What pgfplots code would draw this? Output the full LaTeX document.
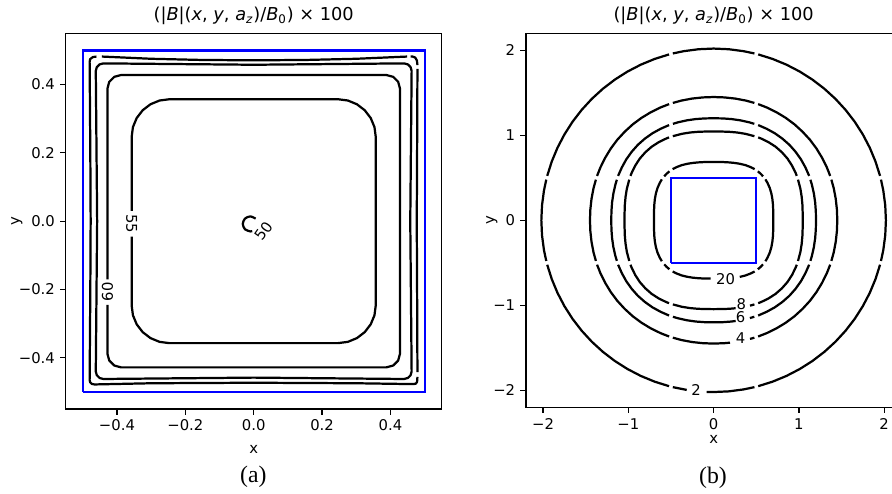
\documentclass[border=0pt]{standalone}
\usepackage{fontspec}
\setmainfont{DejaVu Sans}
\newfontfamily\capfont{Liberation Serif}
\usepackage{pgfplots}
\pgfplotsset{compat=1.18}

\pgfplotsset{
  mpl/.style={
    scale only axis,
    axis line style={line width=0.8pt},
    tick align=outside,
    tick pos=left,
    major tick length=3.8pt,
    every tick/.style={black, line width=0.8pt},
    ticklabel style={font=\fontsize{10}{12}\selectfont},
    every axis label/.append style={font=\fontsize{10}{12}\selectfont},
    every axis title/.style={at={(0.5,1)}, anchor=south, yshift=2pt, font=\fontsize{12}{14}\selectfont},
    unbounded coords=jump,
    title={(|\textit{B}|(\textit{x}, \textit{y}, \textit{a}\textsubscript{\textit{z}})/\textit{B}\textsubscript{0}) × 100},
    xlabel={x}, ylabel={y},
  },
  cont/.style={black, line width=1.5pt, line join=round, no markers},
  coil/.style={blue, line width=1.5pt, no markers},
}
\tikzset{clab/.style={font=\fontsize{10}{12}\selectfont, inner sep=0pt}}
% one piece of a contour in (b), given as (angle in degrees, radius)
\newcommand{\seg}[1]{\addplot[cont, data cs=polar] coordinates {#1};}

\begin{document}
\begin{tikzpicture}

% ---------- (a) ----------
\begin{axis}[mpl,
  at={(44.35pt,56.7pt)}, anchor=south west,
  width=253.8pt, height=253.6pt,
  xmin=-0.55, xmax=0.55, ymin=-0.55, ymax=0.55,
  xtick={-0.4,-0.2,0,0.2,0.4}, xticklabels={−0.4,−0.2,0.0,0.2,0.4},
  ytick={-0.4,-0.2,0,0.2,0.4}, yticklabels={−0.4,−0.2,0.0,0.2,0.4},
  xlabel style={at={(axis description cs:0.5,-0.108)}, anchor=center},
  ylabel style={at={(axis description cs:-0.130,0.5)}, anchor=center},
]
\addplot[coil] coordinates {(-0.5,-0.5) (0.5,-0.5) (0.5,0.5) (-0.5,0.5) (-0.5,-0.5)};

% 55
\addplot[cont] coordinates {
(-0.357,-0.045) (-0.357,-0.247)
(-0.3533,-0.2755) (-0.3423,-0.302) (-0.3248,-0.3248) (-0.302,-0.3423) (-0.2755,-0.3533) (-0.247,-0.357)
(0.247,-0.357) (0.2755,-0.3533) (0.302,-0.3423) (0.3248,-0.3248) (0.3423,-0.302) (0.3533,-0.2755) (0.357,-0.247)
(0.357,0.247) (0.3533,0.2755) (0.3423,0.302) (0.3248,0.3248) (0.302,0.3423) (0.2755,0.3533) (0.247,0.357)
(-0.247,0.357) (-0.2755,0.3533) (-0.302,0.3423) (-0.3248,0.3248) (-0.3423,0.302) (-0.3533,0.2755) (-0.357,0.247)
(-0.357,0.03)};

% 60
\addplot[cont] coordinates {
(-0.428,-0.245) (-0.428,-0.388) (-0.4226,-0.408) (-0.408,-0.4226) (-0.388,-0.428)
(0.388,-0.428) (0.408,-0.4226) (0.4226,-0.408) (0.428,-0.388)
(0.428,0.388) (0.4226,0.408) (0.408,0.4226) (0.388,0.428)
(-0.388,0.428) (-0.408,0.4226) (-0.4226,0.408) (-0.428,0.388)
(-0.428,-0.17)};

% 65
\addplot[cont] coordinates {
(0.458,0) (0.462,0.44) (0.459,0.451) (0.451,0.459) (0.44,0.462)
(0,0.458) (-0.44,0.462) (-0.451,0.459) (-0.459,0.451) (-0.462,0.44)
(-0.458,0) (-0.462,-0.44) (-0.459,-0.451) (-0.451,-0.459) (-0.44,-0.462)
(0,-0.458) (0.44,-0.462) (0.451,-0.459) (0.459,-0.451) (0.462,-0.44) (0.458,0)};

% 70 (outermost, broken near the corners)
\addplot[cont] coordinates {
(-0.46,0.482) (-0.4705,0.4805) (-0.4785,0.4745) (-0.48,0.466) (-0.478,0.2) (-0.477,0) (-0.478,-0.2)
(-0.48,-0.465) (-0.4785,-0.4715) (-0.4735,-0.4765) (-0.466,-0.478) (-0.3,-0.4745) (0,-0.473) (0.3,-0.4745)
(0.467,-0.477) (0.4745,-0.4755) (0.478,-0.47) (0.479,-0.456)
(nan,nan)
(0.479,-0.442) (0.478,-0.2) (0.477,0) (0.478,0.2) (0.479,0.446)
(nan,nan)
(0.479,0.457) (0.4775,0.4705) (0.4725,0.479) (0.465,0.482) (0.459,0.482)
(nan,nan)
(0.449,0.482) (0.3,0.4755) (0.15,0.472) (0,0.471) (-0.15,0.472) (-0.3,0.4755) (-0.444,0.482)};

% 50 (small arc at the centre)
\addplot[cont, smooth] coordinates {
(0.0056,0.0076) (-0.01,0.014) (-0.0256,0.0076) (-0.032,-0.008) (-0.0256,-0.0236) (-0.01,-0.030) (-0.0043,-0.0293)};

\node[clab, rotate=-90] at (axis cs:-0.357,-0.007) {55};
\node[clab, rotate=90] at (axis cs:-0.428,-0.207) {60};
\node[clab, rotate=55] at (axis cs:0.029,-0.029) {50};
\end{axis}

% ---------- (b) ----------
\begin{axis}[mpl,
  at={(355.05pt,57.85pt)}, anchor=south west,
  width=253.3pt, height=252.5pt,
  xmin=-2.2, xmax=2.2, ymin=-2.2, ymax=2.2,
  xtick={-2,-1,0,1,2}, xticklabels={−2,−1,0,1,2},
  ytick={-2,-1,0,1,2}, yticklabels={−2,−1,0,1,2},
  xlabel style={at={(axis description cs:0.5,-0.085)}, anchor=center},
  ylabel style={at={(axis description cs:-0.091,0.5)}, anchor=center},
]
\addplot[coil] coordinates {(-0.5,-0.5) (0.5,-0.5) (0.5,0.5) (-0.5,0.5) (-0.5,-0.5)};

% 20
\seg{(-38.4,.775) (-35,.770) (-30,.760) (-25,.747) (-20,.733) (-15,.720) (-10,.709) (-5,.702) (0,.700) (5,.702) (10,.709) (15,.720) (20,.733) (25,.747) (30,.760) (35,.770) (38.4,.775)}
\seg{(41.8,.777) (45,.777) (48,.775)}
\seg{(51.4,.770) (55,.762) (60,.749) (65,.733) (70,.718) (75,.705) (80,.695) (85,.688) (90,.685) (95,.688) (100,.695) (105,.705) (110,.718) (115,.733) (120,.749) (125,.762) (128.6,.770)}
\seg{(132,.775) (135,.777) (138.2,.777)}
\seg{(141.6,.775) (145,.770) (150,.760) (155,.747) (160,.733) (165,.720) (170,.709) (175,.702) (180,.700) (185,.702) (190,.709) (195,.720) (200,.733) (205,.747) (210,.760) (215,.770) (218.4,.775)}
\seg{(221.8,.777) (225,.777) (228,.775)}
\seg{(231.4,.770) (235,.762) (240,.749) (245,.733) (250,.718) (255,.705) (260,.695) (265,.688) (267.1,.686)}
\seg{(294.7,.733) (300,.749) (305,.762) (308.6,.770)}
\seg{(312,.775) (315,.777) (318.2,.777)}

% 8
\seg{(-25.8,1.099) (-20,1.083) (-15,1.069) (-10,1.057) (-5,1.048) (0,1.045) (5,1.048) (10,1.057) (15,1.069) (20,1.083) (25.8,1.099)}
\seg{(28.2,1.106) (30,1.111) (35,1.122) (40,1.130) (45,1.132) (50,1.130) (55,1.122) (60,1.111) (61.8,1.106)}
\seg{(64.2,1.099) (70,1.083) (75,1.069) (80,1.057) (85,1.048) (90,1.045) (95,1.048) (100,1.057) (105,1.069) (110,1.083) (115.8,1.099)}
\seg{(118.2,1.106) (120,1.111) (125,1.122) (130,1.130) (135,1.132) (140,1.130) (145,1.122) (150,1.111) (151.8,1.106)}
\seg{(154.2,1.099) (160,1.083) (165,1.069) (170,1.057) (175,1.048) (180,1.045) (185,1.048) (190,1.057) (195,1.069) (200,1.083) (205.8,1.099)}
\seg{(208.2,1.106) (210,1.111) (215,1.122) (220,1.130) (225,1.132) (230,1.130) (235,1.122) (240,1.111) (241.8,1.106)}
\seg{(244.2,1.099) (250,1.083) (255,1.069) (260,1.057) (265,1.048) (270,1.045) (275,1.048) (280,1.057) (284,1.066)}
\seg{(293,1.091) (295.8,1.099)}
\seg{(298.2,1.106) (300,1.111) (305,1.122) (310,1.130) (315,1.132) (320,1.130) (325,1.122) (330,1.111) (331.8,1.106)}

% 6
\seg{(-22.8,1.231) (-20,1.226) (-15,1.217) (-10,1.209) (-5,1.203) (0,1.200) (5,1.203) (10,1.209) (15,1.217) (20,1.226) (22.8,1.231)}
\seg{(25,1.236) (30,1.243) (35,1.250) (40,1.254) (45,1.256) (50,1.254) (55,1.250) (60,1.243) (65,1.236)}
\seg{(67.2,1.231) (70,1.226) (75,1.217) (80,1.209) (85,1.203) (90,1.200) (95,1.203) (100,1.209) (105,1.217) (110,1.226) (112.8,1.231)}
\seg{(115,1.236) (120,1.243) (125,1.250) (130,1.254) (135,1.256) (140,1.254) (145,1.250) (150,1.243) (155,1.236)}
\seg{(157.2,1.231) (160,1.226) (165,1.217) (170,1.209) (175,1.203) (180,1.200) (185,1.203) (190,1.209) (195,1.217) (200,1.226) (202.8,1.231)}
\seg{(205,1.236) (210,1.243) (215,1.250) (220,1.254) (225,1.256) (230,1.254) (235,1.250) (240,1.243) (245,1.236)}
\seg{(247.2,1.231) (250,1.226) (255,1.217) (260,1.209) (265,1.203) (270,1.200) (275,1.203) (280,1.209) (282.3,1.212)}
\seg{(290.3,1.226) (292.8,1.231)}
\seg{(295,1.236) (300,1.243) (305,1.250) (310,1.254) (315,1.256) (320,1.254) (325,1.250) (330,1.243) (335,1.236)}

% 4
\seg{(-19.1,1.461) (-15,1.458) (-10,1.454) (-5,1.451) (0,1.450) (5,1.451) (10,1.454) (15,1.458) (19.1,1.461)}
\seg{(20.9,1.463) (25,1.466) (30,1.469) (35,1.472) (40,1.474) (45,1.474) (50,1.474) (55,1.472) (60,1.469) (65,1.466) (69.1,1.463)}
\seg{(70.9,1.461) (75,1.458) (80,1.454) (85,1.451) (90,1.450) (95,1.451) (100,1.454) (105,1.458) (109.1,1.461)}
\seg{(110.9,1.463) (115,1.466) (120,1.469) (125,1.472) (130,1.474) (135,1.474) (140,1.474) (145,1.472) (150,1.469) (155,1.466) (159.1,1.463)}
\seg{(160.9,1.461) (165,1.458) (170,1.454) (175,1.451) (180,1.450) (185,1.451) (190,1.454) (195,1.458) (199.1,1.461)}
\seg{(200.9,1.463) (205,1.466) (210,1.469) (215,1.472) (220,1.474) (225,1.474) (230,1.474) (235,1.472) (240,1.469) (245,1.466) (249.1,1.463)}
\seg{(250.9,1.461) (255,1.458) (260,1.454) (265,1.451) (270,1.450) (275,1.451) (277.6,1.452)}
\seg{(287,1.459) (289.1,1.461)}
\seg{(290.9,1.463) (295,1.466) (300,1.469) (305,1.472) (310,1.474) (315,1.474) (320,1.474) (325,1.472) (330,1.469) (335,1.466) (339.1,1.463)}

% 2
\seg{(-13.7,2.02) (-10,2.02) (-5,2.02) (0,2.02) (5,2.02) (10,2.02) (13.7,2.02)}
\seg{(15,2.02) (20,2.02) (25,2.02) (30,2.02) (35,2.02) (40,2.02) (45,2.02) (50,2.02) (55,2.02) (60,2.02) (65,2.02) (70,2.02) (75,2.02)}
\seg{(76.3,2.02) (80,2.02) (85,2.02) (90,2.02) (95,2.02) (100,2.02) (103.7,2.02)}
\seg{(105,2.02) (110,2.02) (115,2.02) (120,2.02) (125,2.02) (130,2.02) (135,2.02) (140,2.02) (145,2.02) (150,2.02) (155,2.02) (160,2.02) (165,2.02)}
\seg{(166.3,2.02) (170,2.02) (175,2.02) (180,2.02) (185,2.02) (190,2.02) (193.7,2.02)}
\seg{(195,2.02) (200,2.02) (205,2.02) (210,2.02) (215,2.02) (220,2.02) (225,2.02) (230,2.02) (235,2.02) (240,2.02) (245,2.02) (250,2.02) (255,2.02)}
\seg{(256.3,2.02) (261,2.02)}
\seg{(267.7,2.02) (270,2.02) (275,2.02) (280,2.02) (283.7,2.02)}
\seg{(285,2.02) (290,2.02) (295,2.02) (300,2.02) (305,2.02) (310,2.02) (315,2.02) (320,2.02) (325,2.02) (330,2.02) (335,2.02) (340,2.02) (345,2.02)}

\node[clab] at (axis cs:0.141,-0.686) {20};
\node[clab] at (axis cs:0.325,-0.99) {8};
\node[clab] at (axis cs:0.317,-1.143) {6};
\node[clab] at (axis cs:0.317,-1.389) {4};
\node[clab] at (axis cs:-0.207,-2.0) {2};
\end{axis}

\node[font=\capfont\fontsize{16}{19}\selectfont] at (171.0pt,11.0pt) {(a)};
\node[font=\capfont\fontsize{16}{19}\selectfont] at (481.3pt,10.1pt) {(b)};

\pgfresetboundingbox
\useasboundingbox (0pt,0pt) rectangle (602.1pt,332.8pt);
\end{tikzpicture}
\end{document}
